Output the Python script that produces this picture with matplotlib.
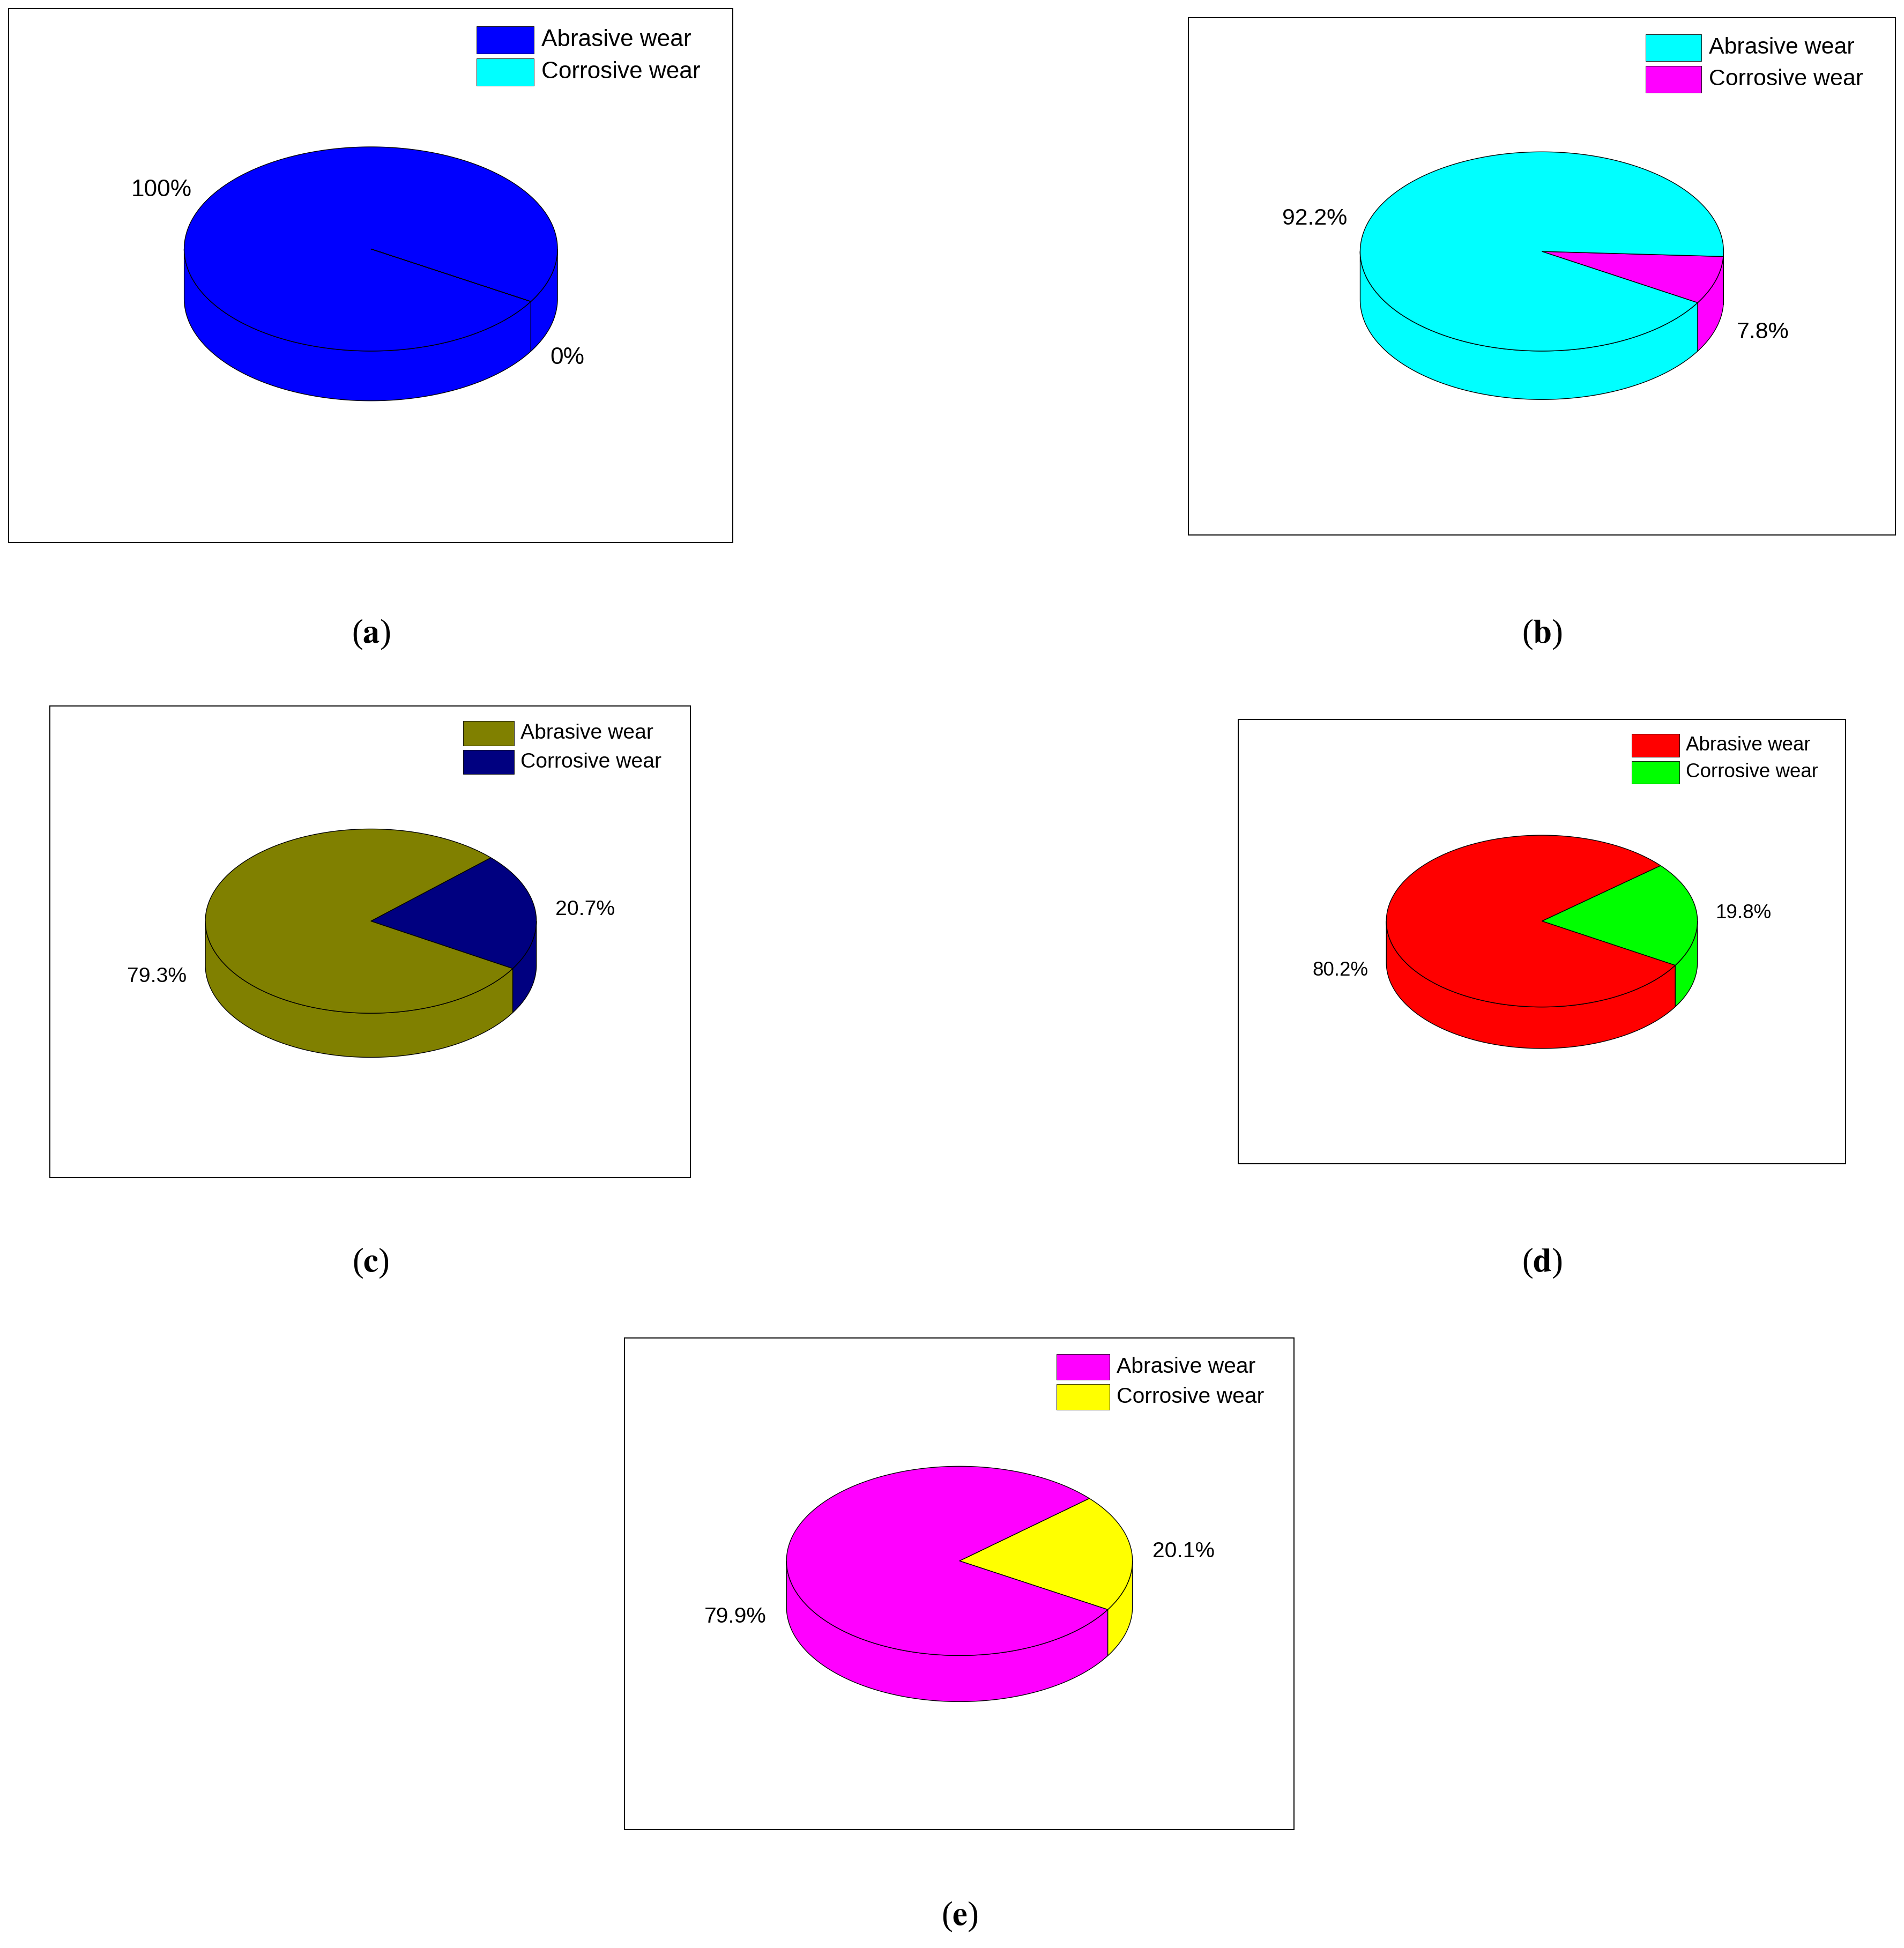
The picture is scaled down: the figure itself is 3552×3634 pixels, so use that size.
import numpy as np
import matplotlib
matplotlib.use('Agg')
import matplotlib.pyplot as plt
from matplotlib.patches import Polygon, Rectangle

plt.rcParams['font.family'] = ['Liberation Sans', 'DejaVu Sans']
plt.rcParams['mathtext.fontset'] = 'stix'

# data: percentage of abrasive / corrosive wear per panel
panels = ['a', 'b', 'c', 'd', 'e']
abrasive = [100, 92.2, 79.3, 80.2, 79.9]
corrosive = [0, 7.8, 20.7, 19.8, 20.1]
abr_labels = ['100%', '92.2%', '79.3%', '80.2%', '79.9%']
cor_labels = ['0%', '7.8%', '20.7%', '19.8%', '20.1%']
abr_colors = ['#0000FF', '#00FFFF', '#808000', '#FF0000', '#FF00FF']
cor_colors = ['#00FFFF', '#FF00FF', '#000080', '#00FF00', '#FFFF00']
series = ['Abrasive wear', 'Corrosive wear']

# layout in reference pixel units (1530 x 1565)
boxes = [(7, 7, 589, 436), (955, 14, 1523, 430), (40, 567, 555, 946),
         (995, 578, 1483, 935), (502, 1075, 1040, 1470)]
centers = [(298, 200), (1239, 202), (298, 740), (1239, 740), (771, 1254)]
radii = [(150, 82), (146, 80), (133, 74), (125, 69), (139, 76)]
caps = [(298, 510), (1239, 510), (298, 1015), (1239, 1015), (771, 1540)]
start = -31.0

W, H = 1530, 1565
fig = plt.figure(figsize=(35.52, 36.34), dpi=100)
ax = fig.add_axes([0, 0, 1, 1])
ax.set_xlim(0, W)
ax.set_ylim(H, 0)
ax.axis('off')
k = 3552 / W  # px per unit
pt = 72 / 100 * k  # points per unit


def pt_at(cx, cy, rx, ry, t, dz=0):
    r = np.radians(t)
    return cx + rx * np.cos(r), cy - ry * np.sin(r) + dz


def draw_pie(i):
    cx, cy = centers[i]
    rx, ry = radii[i]
    depth = 40 * rx / 150
    s = rx / 150
    slices = []
    a0 = start
    a1 = start + corrosive[i] * 3.6
    slices.append((a0, a1, cor_colors[i], cor_labels[i]))
    slices.append((a1, start + 360, abr_colors[i], abr_labels[i]))
    lw = 1.0
    # sides
    for b0, b1, col, _ in slices:
        if b1 - b0 <= 0:
            continue
        for kk in (-1, 0, 1):
            lo = max(b0, 180 + 360 * kk)
            hi = min(b1, 360 + 360 * kk)
            if hi <= lo:
                continue
            ts = np.linspace(lo, hi, 200)
            top = [pt_at(cx, cy, rx, ry, t) for t in ts]
            bot = [pt_at(cx, cy, rx, ry, t, depth) for t in ts[::-1]]
            ax.add_patch(Polygon(top + bot, closed=True, fc=col, ec='black', lw=lw))
    # tops
    for b0, b1, col, _ in slices:
        if b1 - b0 <= 0:
            continue
        ts = np.linspace(b0, b1, 400)
        pts = [(cx, cy)] + [pt_at(cx, cy, rx, ry, t) for t in ts]
        ax.add_patch(Polygon(pts, closed=True, fc=col, ec='black', lw=lw))
    # labels
    fs = 19 * s * pt
    for b0, b1, col, lab in slices:
        m = (b0 + b1) / 2
        x, y = pt_at(cx, cy, rx * 1.12, ry * 1.12, m)
        if np.sin(np.radians(m)) < -0.05:
            y += depth
        ha = 'left' if np.cos(np.radians(m)) > 0 else 'right'
        ax.text(x, y, lab, ha=ha, va='center', fontsize=fs)
    # frame
    x0, y0, x1, y1 = boxes[i]
    ax.add_patch(Rectangle((x0, y0), x1 - x0, y1 - y0, fill=False, ec='black', lw=1.4))
    # legend
    lx = x1 - 206 * s
    ly = y0 + 14 * s
    for j, (nm, col) in enumerate(zip(series, [abr_colors[i], cor_colors[i]])):
        yy = ly + j * 26 * s
        ax.add_patch(Rectangle((lx, yy), 46 * s, 22 * s, fc=col, ec='black', lw=0.6))
        ax.text(lx + 52 * s, yy + 11 * s, nm, ha='left', va='center', fontsize=fs)
    # caption
    ax.text(caps[i][0], caps[i][1], r'($\mathbf{%s}$)' % panels[i], ha='center', va='center',
            fontsize=27 * pt, family='Liberation Serif', math_fontfamily='stix')


for i in range(len(panels)):
    draw_pie(i)

fig.savefig('out.png', dpi=100)
